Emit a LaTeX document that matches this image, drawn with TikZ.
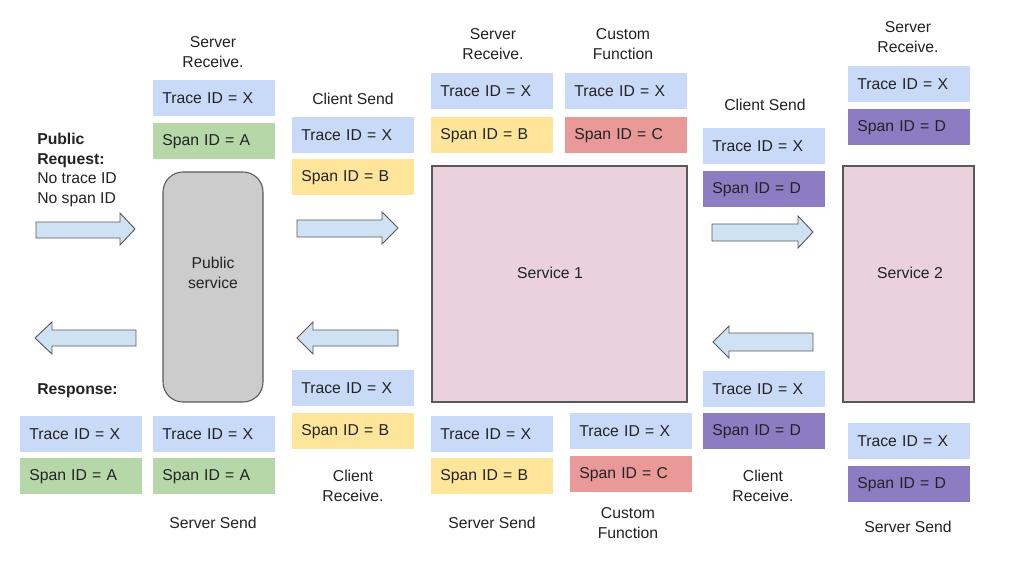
\documentclass[tikz,border=0pt]{standalone}
\usepackage{fontspec}
\setmainfont{Liberation Sans}
\definecolor{tblue}{HTML}{C9DAF8}
\definecolor{sgreen}{HTML}{B6D7A8}
\definecolor{syellow}{HTML}{FFE599}
\definecolor{sred}{HTML}{EA9999}
\definecolor{spurple}{HTML}{8E7CC3}
\definecolor{arrfill}{HTML}{CFE2F3}
\definecolor{svcpink}{HTML}{EAD1DC}
\definecolor{pubgray}{HTML}{CCCCCC}
\definecolor{edge}{HTML}{595959}
\definecolor{txt}{HTML}{222222}
\begin{document}
\begin{tikzpicture}[x=0.75pt,y=-0.75pt,
  every node/.style={text=txt},
  idbox/.style={rectangle, anchor=north west, minimum width=91.5pt, minimum height=27pt,
    text width=78pt, inner xsep=6.75pt, inner ysep=0pt, align=left,
    font=\fontsize{11.8}{14}\selectfont},
  lbl/.style={align=center, font=\fontsize{11.8}{15}\selectfont, inner sep=0pt},
  svc/.style={draw=edge, line width=0.8pt, fill=svcpink, font=\fontsize{11.8}{15}\selectfont},
  blockarrow/.style={draw=edge, line width=0.7pt, fill=arrfill, line join=miter}
]
\useasboundingbox (0,0) rectangle (1024,578);

% service boxes
\draw[svc, fill=pubgray, rounded corners=15pt] (163,172) rectangle (263,402);
\node[lbl] (pub) at (213,273) {Public\\service};
\draw[svc] (432,166) rectangle (687,402);
\node[lbl] (s1) at (550,273) {Service 1};
\draw[svc] (843,166) rectangle (974,402);
\node[lbl] (s2) at (910,273) {Service 2};

% block arrows
\draw[blockarrow] (36,222)--(120,222)--(120,213)--(135,229)--(120,245)--(120,238)--(36,238)--cycle;
\draw[blockarrow] (297,220)--(382,220)--(382,212)--(398,228)--(382,244)--(382,237)--(297,237)--cycle;
\draw[blockarrow] (712,224)--(798,224)--(798,216)--(813,232)--(798,248)--(798,241)--(712,241)--cycle;
\draw[blockarrow] (136,330)--(52,330)--(52,322)--(35,338)--(52,354)--(52,346)--(136,346)--cycle;
\draw[blockarrow] (398,330)--(313,330)--(313,322)--(297,338)--(313,354)--(313,346)--(398,346)--cycle;
\draw[blockarrow] (813,333)--(729,333)--(729,326)--(713,342)--(729,358)--(729,351)--(813,351)--cycle;

% texts at the left
\node[lbl, anchor=west, align=left, font=\fontsize{11.8}{14.6}\selectfont] (req) at (37,170)
  {\textbf{Public}\\\textbf{Request:}\\No trace ID\\No span ID};
\node[lbl, anchor=west, font=\fontsize{11.8}{14.6}\selectfont\bfseries] (resp) at (37,391) {Response:};

% ID boxes
\node[idbox, fill=tblue] (sr0t) at (153,80) {Trace ID = X};
\node[idbox, fill=sgreen] (sr0s) at (153,123) {Span ID = A};
\node[idbox, fill=tblue] (rst) at (20,416) {Trace ID = X};
\node[idbox, fill=sgreen] (rss) at (20,458) {Span ID = A};
\node[idbox, fill=tblue] (ss0t) at (153,416) {Trace ID = X};
\node[idbox, fill=sgreen] (ss0s) at (153,458) {Span ID = A};

\node[idbox, fill=tblue] (cs1t) at (292,117) {Trace ID = X};
\node[idbox, fill=syellow] (cs1s) at (292,159) {Span ID = B};
\node[idbox, fill=tblue] (cr1t) at (292,370) {Trace ID = X};
\node[idbox, fill=syellow] (cr1s) at (292,413) {Span ID = B};

\node[idbox, fill=tblue] (sr1t) at (431,73) {Trace ID = X};
\node[idbox, fill=syellow] (sr1s) at (431,117) {Span ID = B};
\node[idbox, fill=tblue] (cf1t) at (565,73) {Trace ID = X};
\node[idbox, fill=sred] (cf1s) at (565,117) {Span ID = C};
\node[idbox, fill=tblue] (ss1t) at (431,416) {Trace ID = X};
\node[idbox, fill=syellow] (ss1s) at (431,458) {Span ID = B};
\node[idbox, fill=tblue] (cf2t) at (570,413) {Trace ID = X};
\node[idbox, fill=sred] (cf2s) at (570,456) {Span ID = C};

\node[idbox, fill=tblue] (cs2t) at (703,128) {Trace ID = X};
\node[idbox, fill=spurple] (cs2s) at (703,171) {Span ID = D};
\node[idbox, fill=tblue] (cr2t) at (703,371) {Trace ID = X};
\node[idbox, fill=spurple] (cr2s) at (703,413) {Span ID = D};
\node[idbox, fill=tblue] (sr2t) at (848,66) {Trace ID = X};
\node[idbox, fill=spurple] (sr2s) at (848,109) {Span ID = D};
\node[idbox, fill=tblue] (ss2t) at (848,423) {Trace ID = X};
\node[idbox, fill=spurple] (ss2s) at (848,466) {Span ID = D};

% labels
\node[lbl] (l1) at (213,52) {Server\\Receive.};
\node[lbl] (l2) at (353,99) {Client Send};
\node[lbl] (l3) at (493,44) {Server\\Receive.};
\node[lbl] (l4) at (623,44) {Custom\\Function};
\node[lbl] (l5) at (765,105) {Client Send};
\node[lbl] (l6) at (908,37) {Server\\Receive.};
\node[lbl] (l7) at (213,523) {Server Send};
\node[lbl] (l8) at (353,486) {Client\\Receive.};
\node[lbl] (l9) at (492,523) {Server Send};
\node[lbl] (l10) at (628,523) {Custom\\Function};
\node[lbl] (l11) at (763,486) {Client\\Receive.};
\node[lbl] (l12) at (908,527) {Server Send};
\end{tikzpicture}
\end{document}
